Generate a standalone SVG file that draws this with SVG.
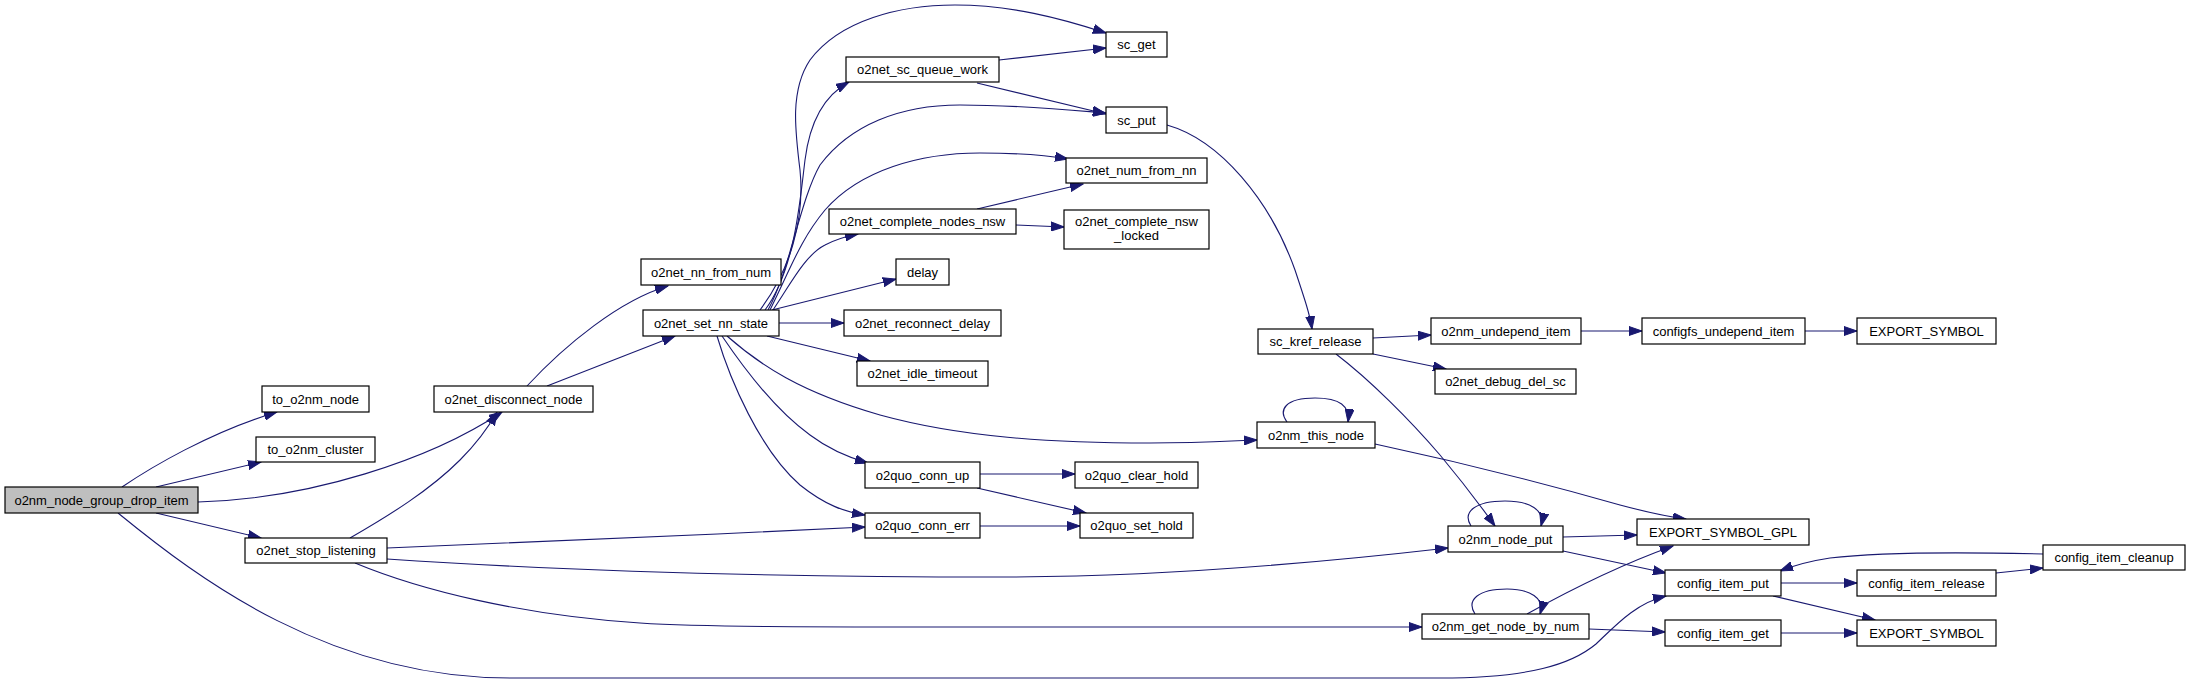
<svg xmlns="http://www.w3.org/2000/svg" width="2191" height="689" viewBox="0 0 2191 689">
<style>
.n rect{fill:#fff;stroke:#000;stroke-width:1.2}
.n.root rect{fill:#bfbfbf}
.n text{font-family:"Liberation Sans",Arial,sans-serif;font-size:13px;fill:#000;text-anchor:middle}
#edges path{fill:none;stroke:#191970;stroke-width:1.1;marker-end:url(#ah)}
</style>
<defs>
<marker id="ah" markerWidth="14" markerHeight="10" refX="13" refY="5" orient="auto" markerUnits="userSpaceOnUse">
<path d="M0,0.5 L13,5 L0,9.5 Z" fill="#191970" stroke="#191970" stroke-width="1"/>
</marker>
</defs>
<rect width="2191" height="689" fill="#fff"/>
<g id="edges">
<path d="M122,487 C150,468 210,432 277,412"/>
<path d="M156,487 L261,462"/>
<path d="M198,502 C310,499 430,460 502,412"/>
<path d="M156,513 L261,538"/>
<path d="M118,513 C200,580 330,678 510,678 L1440,678 C1530,678 1572,664 1596,644 C1616,625 1636,603 1666,596"/>
<path d="M527,386 C565,345 620,300 668,286"/>
<path d="M547,386 L675,336"/>
<path d="M760,310 C790,270 805,220 800,170 C795,130 790,90 810,60 C840,20 900,5 955,5 C1010,5 1060,18 1106,33"/>
<path d="M765,310 C795,270 800,200 805,160 C810,120 825,95 849,82"/>
<path d="M768,310 C790,270 800,200 820,165 C850,125 900,105 960,105 C1020,105 1070,110 1106,113"/>
<path d="M770,310 C790,270 800,240 825,210 C860,170 920,153 980,153 C1020,153 1045,155 1068,159"/>
<path d="M773,310 C790,285 805,255 825,245 C838,238 848,236 858,234"/>
<path d="M772,310 L896,279"/>
<path d="M779,323 L844,323"/>
<path d="M767,336 L870,361"/>
<path d="M727,336 C760,365 800,392 880,415 C960,437 1050,443 1150,443 C1200,443 1230,441 1257,440"/>
<path d="M722,336 C745,370 775,410 810,435 C830,450 850,458 868,463"/>
<path d="M717,336 C730,380 760,450 800,485 C825,505 845,512 865,515"/>
<path d="M999,60 L1106,48"/>
<path d="M977,83 L1106,114"/>
<path d="M1167,125 C1220,140 1270,200 1295,270 C1305,300 1310,315 1312,329"/>
<path d="M977,209 L1083,184"/>
<path d="M1016,225 L1064,227"/>
<path d="M1373,338 L1431,335"/>
<path d="M1373,354 L1446,369"/>
<path d="M1336,354 C1370,380 1410,420 1440,455 C1465,485 1480,505 1495,526"/>
<path d="M1581,331 L1642,331"/>
<path d="M1805,331 L1857,331"/>
<path d="M1287,422 C1278,410 1285,398 1315,398 C1340,398 1350,406 1348,422"/>
<path d="M1375,444 C1450,460 1550,485 1620,505 C1650,513 1670,517 1686,519"/>
<path d="M980,474 L1075,474"/>
<path d="M977,488 L1086,513"/>
<path d="M980,526 L1080,526"/>
<path d="M350,538 C390,515 430,490 460,460 C475,445 488,428 497,412"/>
<path d="M387,548 C500,544 700,535 865,527"/>
<path d="M387,559 C550,570 750,577 1000,577 C1150,577 1300,565 1448,548"/>
<path d="M355,563 C420,590 520,615 640,623 C700,627 800,627 1000,627 L1422,627"/>
<path d="M1471,526 C1462,512 1475,501 1505,501 C1530,501 1545,510 1541,526"/>
<path d="M1563,537 L1637,535"/>
<path d="M1563,551 L1666,573"/>
<path d="M1475,614 C1466,600 1478,589 1507,589 C1530,589 1545,598 1540,614"/>
<path d="M1527,614 C1570,590 1620,565 1673,546"/>
<path d="M1589,629 L1665,632"/>
<path d="M1781,583 L1857,583"/>
<path d="M1773,596 L1875,620"/>
<path d="M1996,573 L2043,568"/>
<path d="M2043,554 C1960,552 1880,552 1830,558 C1810,561 1795,565 1780,571"/>
<path d="M1781,633 L1857,633"/>
</g>
<g id="n_root" class="n root"><rect x="5" y="487" width="193" height="26"/><text x="101.5" y="504.5">o2nm_node_group_drop_item</text></g>
<g id="n_to_o2nm_node" class="n"><rect x="262" y="386" width="107" height="26"/><text x="315.5" y="403.5">to_o2nm_node</text></g>
<g id="n_to_o2nm_cluster" class="n"><rect x="256" y="437" width="119" height="25"/><text x="315.5" y="454">to_o2nm_cluster</text></g>
<g id="n_o2net_disconnect_node" class="n"><rect x="434" y="386" width="159" height="26"/><text x="513.5" y="403.5">o2net_disconnect_node</text></g>
<g id="n_o2net_stop_listening" class="n"><rect x="245" y="538" width="142" height="25"/><text x="316" y="555">o2net_stop_listening</text></g>
<g id="n_o2net_nn_from_num" class="n"><rect x="641" y="259" width="140" height="26"/><text x="711" y="276.5">o2net_nn_from_num</text></g>
<g id="n_o2net_set_nn_state" class="n"><rect x="643" y="310" width="136" height="26"/><text x="711" y="327.5">o2net_set_nn_state</text></g>
<g id="n_o2net_sc_queue_work" class="n"><rect x="846" y="57" width="153" height="25"/><text x="922.5" y="74">o2net_sc_queue_work</text></g>
<g id="n_sc_get" class="n"><rect x="1106" y="32" width="61" height="25"/><text x="1136.5" y="49">sc_get</text></g>
<g id="n_sc_put" class="n"><rect x="1106" y="107" width="61" height="26"/><text x="1136.5" y="124.5">sc_put</text></g>
<g id="n_o2net_num_from_nn" class="n"><rect x="1066" y="158" width="141" height="25"/><text x="1136.5" y="175">o2net_num_from_nn</text></g>
<g id="n_o2net_complete_nodes_nsw" class="n"><rect x="829" y="209" width="187" height="25"/><text x="922.5" y="226">o2net_complete_nodes_nsw</text></g>
<g id="n_o2net_complete_nsw_locked" class="n"><rect x="1064" y="210" width="145" height="39"/><text x="1136.5" y="226">o2net_complete_nsw</text><text x="1136.5" y="240">_locked</text></g>
<g id="n_delay" class="n"><rect x="896" y="259" width="53" height="26"/><text x="922.5" y="276.5">delay</text></g>
<g id="n_o2net_reconnect_delay" class="n"><rect x="844" y="310" width="157" height="26"/><text x="922.5" y="327.5">o2net_reconnect_delay</text></g>
<g id="n_o2net_idle_timeout" class="n"><rect x="857" y="361" width="131" height="25"/><text x="922.5" y="378">o2net_idle_timeout</text></g>
<g id="n_o2quo_conn_up" class="n"><rect x="865" y="462" width="115" height="26"/><text x="922.5" y="479.5">o2quo_conn_up</text></g>
<g id="n_o2quo_conn_err" class="n"><rect x="865" y="513" width="115" height="25"/><text x="922.5" y="530">o2quo_conn_err</text></g>
<g id="n_o2quo_clear_hold" class="n"><rect x="1075" y="462" width="123" height="26"/><text x="1136.5" y="479.5">o2quo_clear_hold</text></g>
<g id="n_o2quo_set_hold" class="n"><rect x="1080" y="513" width="113" height="25"/><text x="1136.5" y="530">o2quo_set_hold</text></g>
<g id="n_sc_kref_release" class="n"><rect x="1258" y="329" width="115" height="25"/><text x="1315.5" y="346">sc_kref_release</text></g>
<g id="n_o2nm_this_node" class="n"><rect x="1257" y="422" width="118" height="26"/><text x="1316" y="439.5">o2nm_this_node</text></g>
<g id="n_o2nm_undepend_item" class="n"><rect x="1431" y="318" width="150" height="26"/><text x="1506" y="335.5">o2nm_undepend_item</text></g>
<g id="n_o2net_debug_del_sc" class="n"><rect x="1435" y="369" width="141" height="25"/><text x="1505.5" y="386">o2net_debug_del_sc</text></g>
<g id="n_configfs_undepend_item" class="n"><rect x="1642" y="318" width="163" height="26"/><text x="1723.5" y="335.5">configfs_undepend_item</text></g>
<g id="n_export_symbol_1" class="n"><rect x="1857" y="318" width="139" height="26"/><text x="1926.5" y="335.5">EXPORT_SYMBOL</text></g>
<g id="n_o2nm_node_put" class="n"><rect x="1448" y="526" width="115" height="26"/><text x="1505.5" y="543.5">o2nm_node_put</text></g>
<g id="n_export_symbol_gpl" class="n"><rect x="1637" y="519" width="172" height="26"/><text x="1723" y="536.5">EXPORT_SYMBOL_GPL</text></g>
<g id="n_config_item_put" class="n"><rect x="1665" y="570" width="116" height="26"/><text x="1723" y="587.5">config_item_put</text></g>
<g id="n_config_item_release" class="n"><rect x="1857" y="570" width="139" height="26"/><text x="1926.5" y="587.5">config_item_release</text></g>
<g id="n_config_item_cleanup" class="n"><rect x="2043" y="545" width="142" height="25"/><text x="2114" y="562">config_item_cleanup</text></g>
<g id="n_o2nm_get_node_by_num" class="n"><rect x="1422" y="614" width="167" height="25"/><text x="1505.5" y="631">o2nm_get_node_by_num</text></g>
<g id="n_config_item_get" class="n"><rect x="1665" y="620" width="116" height="26"/><text x="1723" y="637.5">config_item_get</text></g>
<g id="n_export_symbol_2" class="n"><rect x="1857" y="620" width="139" height="26"/><text x="1926.5" y="637.5">EXPORT_SYMBOL</text></g>
</svg>
